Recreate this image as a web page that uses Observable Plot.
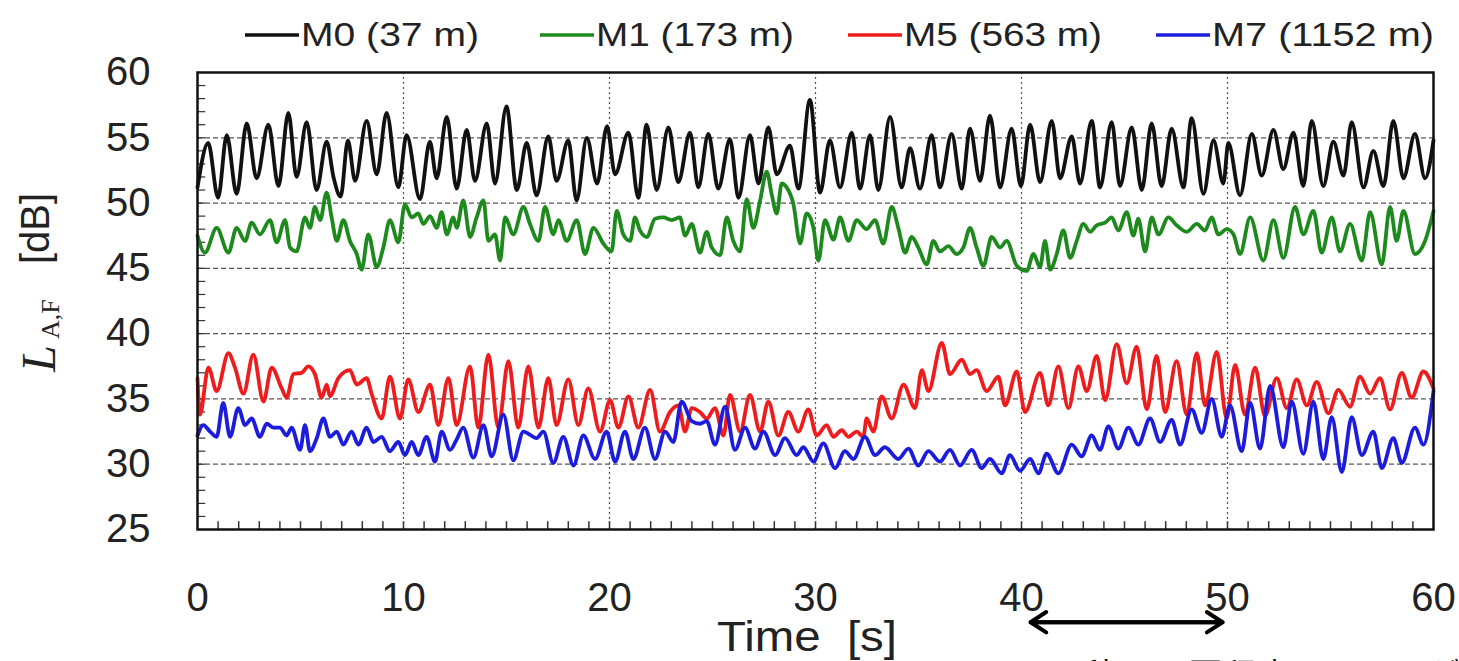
<!DOCTYPE html>
<html>
<head>
<meta charset="utf-8">
<script src="https://cdn.jsdelivr.net/npm/d3@7"></script>
<script src="https://cdn.jsdelivr.net/npm/@observablehq/plot@0.6"></script>
<style>
  html, body { margin: 0; padding: 0; background: #fff; }
  #wrap { position: relative; width: 1459px; height: 661px; overflow: hidden; background: #fff; }
  #chart { position: absolute; left: 0; top: 60px; }
  #legend, #overlay { position: absolute; left: 0; top: 0; }
  #note { position: absolute; left: 1045px; top: 657px; font-family: "Noto Sans CJK JP", sans-serif; font-size: 34px; line-height: 1; white-space: nowrap; color: #111; }
</style>
</head>
<body>
<div id="wrap">
  <svg id="legend" width="1459" height="60"></svg>
  <div id="chart"></div>
  <svg id="overlay" width="1459" height="661" style="pointer-events:none">
    <text transform="translate(55,372) rotate(-90)" font-family="Liberation Serif, Times New Roman, serif" font-style="italic" font-size="48" fill="#222">L</text>
    <text transform="translate(59,339) rotate(-90)" font-family="Liberation Serif, Times New Roman, serif" font-size="26" fill="#222">A,F</text>
    <text transform="translate(49,264) rotate(-90)" font-family="Liberation Sans, Arial, sans-serif" font-size="40" fill="#222">[dB]</text>
    <text x="717" y="651" font-family="Liberation Sans, Arial, sans-serif" font-size="42" fill="#222" textLength="180" lengthAdjust="spacingAndGlyphs" xml:space="preserve">Time  [s]</text>
  </svg>
  <div id="note"></div>
</div>
<script>
// ---------- data ----------
const seriesNames = ["M0 (37 m)", "M1 (173 m)", "M5 (563 m)", "M7 (1152 m)"];
const seriesColors = ["#111111", "#1e8a1e", "#ee1c1c", "#1c1cdc"];

const xTicks = [0, 10, 20, 30, 40, 50, 60];
const yTicks = [25, 30, 35, 40, 45, 50, 55, 60];
const xGrid = [10, 20, 30, 40, 50];
const yGrid = [30, 35, 40, 45, 50, 55];
const xMinor = d3.range(1, 60, 1);
const yMinor = d3.range(26, 60, 1);

const arrowSpan = [40.44, 49.76];
const arrowLevel = 17.9;

const m0Time = [0,0.52,1.0,1.42,1.9,2.39,2.87,3.44,3.93,4.41,
  4.81,5.3,5.78,6.27,6.6,6.95,7.3,7.65,8.21,8.7,
  9.18,9.75,10.15,10.8,11.28,11.61,12.1,12.58,13.07,13.47,
  14.04,14.44,15.0,15.5,15.98,16.46,17.03,17.43,18.0,18.4,
  18.9,19.4,19.88,20.27,20.92,21.4,21.8,22.29,22.86,23.34,
  23.91,24.31,24.8,25.28,25.85,26.26,26.82,27.23,27.71,28.12,
  28.76,29.17,29.73,30.22,30.7,31.19,31.76,32.16,32.65,33.05,
  33.62,34.18,34.59,35.07,35.64,36.04,36.61,37.1,37.5,37.99,
  38.47,38.96,39.52,39.97,40.42,40.9,41.47,41.87,42.44,42.84,
  43.41,43.81,44.38,44.78,45.35,45.84,46.32,46.8,47.29,47.86,
  48.26,48.83,49.32,49.8,50.04,50.61,51.18,51.66,52.23,52.71,
  53.2,53.68,54.09,54.65,55.14,55.63,56.03,56.6,57.08,57.57,
  58.05,58.54,59.1,59.59,60];
const m0Level = [51.2,54.6,50.4,55.2,50.7,56.1,51.9,56.0,51.3,56.9,
  52.0,56.2,51.0,54.7,52.0,50.5,54.8,51.7,56.3,52.2,
  56.9,51.2,55.2,50.3,54.7,51.9,56.6,51.1,55.6,51.7,
  56.1,51.5,57.4,51.0,54.6,50.6,55.1,51.7,54.8,50.2,
  55.0,51.5,55.9,52.2,55.4,50.4,56.0,51.0,55.8,51.6,
  55.4,51.2,55.3,51.1,54.9,50.4,55.2,51.5,55.8,52.2,
  54.4,51.1,57.9,50.8,54.8,51.2,55.4,51.1,55.2,51.0,
  56.6,51.2,54.2,51.1,55.2,51.2,55.3,51.1,55.7,51.7,
  56.7,51.2,55.7,51.3,56.0,51.6,56.3,51.9,55.1,51.5,
  56.3,51.2,56.2,51.3,55.8,51.0,56.1,51.3,55.7,51.2,
  56.5,50.7,54.8,51.5,54.6,50.6,55.3,52.1,55.6,52.6,
  55.4,51.3,56.3,51.3,54.7,52.1,56.2,51.2,54.0,51.3,
  56.3,51.9,55.3,51.9,54.8];

const m1Time = [0,0.36,0.93,1.5,1.9,2.31,2.63,3.03,3.52,3.84,
  4.25,4.49,4.81,5.22,5.46,5.7,5.95,6.27,6.51,6.76,
  7.08,7.4,7.73,7.97,8.29,8.7,9.02,9.34,9.75,10.07,
  10.4,10.72,10.96,11.29,11.61,11.85,12.1,12.42,12.58,12.9,
  13.23,13.55,13.88,14.12,14.44,14.69,14.93,15.33,15.82,16.14,
  16.55,16.87,17.27,17.52,17.92,18.41,18.81,19.22,19.7,
  20.1,20.35,20.67,21.0,21.24,21.48,21.81,22.21,22.61,23.02,
  23.42,23.67,23.99,24.39,24.72,24.96,25.37,25.69,26.01,26.34,
  26.66,26.98,27.31,27.63,27.87,28.12,28.36,28.6,28.93,29.25,
  29.57,29.9,30.14,30.46,30.87,31.19,31.6,32.0,32.48,32.89,
  33.29,33.7,34.02,34.35,34.67,34.99,35.4,35.72,36.04,36.45,
  36.85,37.18,37.5,37.82,38.15,38.55,38.96,39.28,39.77,
  40.25,40.58,40.9,41.14,41.39,41.71,42.03,42.36,42.68,43.0,
  43.33,43.65,44.06,44.38,44.7,45.11,45.43,45.67,46.0,46.32,
  46.65,47.13,47.53,48.02,48.51,48.91,49.23,49.56,49.96,50.29,
  50.61,51.1,51.74,52.23,52.71,53.28,53.68,54.17,54.57,55.06,
  55.46,55.95,56.52,56.92,57.49,57.89,58.21,58.54,59.1,59.59,
  60];
const m1Level = [47.5,46.2,48.1,46.2,48.1,47.1,48.5,47.6,48.7,47.0,
  48.7,46.6,46.3,48.9,48.1,49.7,48.7,50.8,48.9,47.1,
  48.7,47.1,46.1,44.9,47.6,45.1,46.6,48.7,47.0,49.9,
  48.9,49.2,48.4,49.0,48.1,49.3,47.6,48.9,48.1,50.2,
  47.4,48.9,50.2,47.1,47.6,45.6,48.9,47.6,49.7,48.4,
  47.1,49.7,47.6,48.7,47.1,48.7,46.1,48.1,46.9,
  46.3,49.4,47.6,47.1,48.9,47.9,47.4,48.8,48.9,48.7,
  48.9,47.5,48.4,46.2,47.8,46.6,46.0,48.9,47.1,46.3,
  50.3,48.1,50.2,52.4,50.7,49.2,51.5,51.2,49.9,46.9,
  49.2,48.1,45.6,48.7,47.2,48.9,47.1,48.7,48.0,48.7,
  46.9,49.7,48.1,46.2,47.4,46.6,45.3,47.1,46.3,46.7,
  46.1,46.6,48.1,46.6,45.2,47.4,46.6,47.1,45.2,
  44.8,46.1,45.1,47.1,44.9,46.1,47.9,45.8,47.1,48.4,
  47.8,48.3,48.5,48.9,47.9,49.3,47.5,48.8,46.3,48.9,
  47.6,48.9,48.3,47.8,48.4,47.9,48.9,47.6,48.0,47.6,
  46.1,48.9,45.6,48.7,45.8,49.7,47.6,49.4,46.2,48.9,
  46.3,48.4,45.6,49.3,45.3,49.7,47.1,49.4,46.1,47.1,
  49.4];

const m5Time = [0,0.12,0.53,0.93,1.5,1.82,2.23,2.71,3.2,3.6,
  4.09,4.33,4.65,5.06,5.38,5.7,6.03,6.27,6.43,6.84,
  7.4,7.73,8.21,8.45,8.94,9.34,9.83,10.23,10.72,11.29,
  11.69,12.18,12.58,13.23,13.63,14.12,14.6,15.09,15.57,16.06,
  16.55,17.03,17.43,18.0,18.49,18.97,19.54,
  20.03,20.43,20.92,21.4,21.97,22.45,22.94,23.34,23.67,23.99,
  24.39,24.72,25.12,25.53,25.85,26.34,26.82,27.31,27.71,28.2,
  28.68,29.17,29.65,30.06,30.54,30.87,31.27,31.6,32.0,32.32,
  32.48,32.81,33.21,33.7,34.27,34.83,35.16,35.48,36.13,36.53,
  37.1,37.5,37.82,38.31,38.88,39.2,39.77,
  40.17,40.9,41.3,41.79,42.28,42.76,43.17,43.65,44.06,44.62,
  45.11,45.59,46.08,46.56,46.97,47.53,48.02,48.51,48.91,49.48,
  49.96,50.37,50.85,51.34,51.82,52.39,52.88,53.36,53.85,54.33,
  54.9,55.38,55.95,56.43,56.92,57.4,57.89,58.46,58.94,59.51,
  60];
const m5Level = [36.6,33.8,37.4,35.6,38.5,37.4,35.4,38.4,34.8,37.4,
  35.8,35.1,36.9,37.0,37.5,36.9,35.1,36.1,35.2,36.6,
  37.2,36.1,36.6,35.4,33.5,36.7,33.5,36.5,34.0,36.1,
  33.0,36.6,33.0,37.5,32.8,38.4,32.8,37.9,32.8,37.5,
  32.8,36.6,33.0,36.5,33.0,35.8,32.5,
  34.9,32.8,35.2,32.8,35.7,32.5,34.0,34.5,32.5,34.3,
  34.0,33.5,34.3,32.2,35.3,32.5,35.3,32.5,34.8,32.2,
  34.0,32.5,34.2,32.2,33.0,32.1,32.6,32.1,32.5,32.1,
  33.5,32.5,35.2,33.5,36.1,34.3,37.2,35.6,39.3,36.9,
  38.0,36.9,37.2,35.6,36.7,34.5,37.1,
  34.0,37.0,34.5,37.5,34.3,37.5,35.6,38.3,34.9,39.2,
  36.2,39.0,34.2,38.3,34.0,37.9,33.8,38.5,34.5,38.6,
  33.5,37.6,33.8,37.4,33.7,36.6,34.3,36.5,34.5,36.3,
  33.9,35.7,34.4,36.7,35.4,36.6,34.2,37.0,35.1,37.1,
  35.8];

const m7Time = [0,0.28,0.61,0.93,1.25,1.58,1.98,2.31,2.63,3.03,
  3.36,3.68,4.0,4.33,4.57,4.98,5.22,5.46,5.79,6.11,
  6.43,6.76,7.08,7.48,7.81,8.21,8.54,8.94,9.34,9.75,
  10.07,10.4,10.72,11.12,11.53,11.85,12.26,12.58,12.9,13.39,
  13.88,14.28,14.85,15.33,15.82,16.46,16.79,17.27,17.76,18.25,
  18.73,19.3,
  19.86,20.27,20.75,21.16,21.72,22.21,22.7,23.1,23.5,23.99,
  24.39,24.72,25.12,25.61,26.09,26.58,27.06,27.47,28.04,28.52,
  29.09,29.41,29.9,30.38,30.95,31.43,31.84,32.4,32.89,33.37,
  34.02,34.51,34.99,35.48,36.04,36.53,37.02,37.58,38.07,38.47,
  39.04,39.44,
  39.93,40.42,40.82,41.22,41.79,42.44,42.92,43.41,43.81,44.22,
  44.7,45.19,45.67,46.24,46.73,47.29,47.7,48.26,48.75,49.23,
  49.72,50.12,50.69,51.1,51.58,52.07,52.71,53.12,53.68,54.17,
  54.65,55.06,55.55,56.03,56.52,57.08,57.49,58.05,58.46,59.1,
  59.51,60];
const m7Level = [32.2,33.0,32.5,32.1,34.7,32.1,34.3,33.0,33.5,32.1,
  33.1,32.8,32.8,32.2,32.8,31.1,33.0,31.0,32.0,33.5,
  32.1,32.5,31.5,32.5,31.5,32.8,31.7,32.1,31.0,31.7,
  30.7,31.7,30.7,32.1,30.2,32.5,31.1,31.9,32.8,30.5,
  33.0,30.6,33.8,30.3,32.5,32.0,32.5,30.1,32.1,29.9,
  32.2,30.4,
  32.5,30.2,32.5,30.4,32.8,30.4,32.5,31.7,34.8,33.3,
  33.1,33.3,31.5,34.4,31.1,32.8,31.2,32.5,30.7,32.0,
  30.7,31.3,30.2,31.6,29.7,31.0,30.4,32.1,30.7,31.3,
  30.4,31.2,29.9,31.0,30.2,31.1,29.9,31.1,29.7,30.4,
  29.3,30.7,
  29.5,30.4,29.3,30.8,29.3,31.5,30.6,32.2,31.1,32.9,
  31.2,32.8,31.5,33.5,31.7,33.4,31.5,34.2,32.4,35.0,
  32.1,34.5,31.0,34.7,31.2,36.0,31.3,34.8,30.8,34.8,
  30.4,33.6,29.4,33.6,30.7,32.5,29.7,32.0,30.1,32.8,
  31.5,35.6];

const noteText = "10秒に10回程度のレベルが変動";

// ---------- build ----------
const seriesTimes = [m0Time, m1Time, m5Time, m7Time];
const seriesLevels = [m0Level, m1Level, m5Level, m7Level];
const rows = [];
seriesNames.forEach((name, k) => {
  const ts = seriesTimes[k], vs = seriesLevels[k];
  const n = Math.min(ts.length, vs.length);
  for (let i = 0; i < n; i++) rows.push({t: ts[i], v: vs[i], name});
});

document.getElementById("note").textContent = noteText;

const chart = Plot.plot({
  width: 1459,
  height: 601,
  marginTop: 12,
  marginBottom: 132,
  marginLeft: 197,
  marginRight: 26,
  style: {fontFamily: "'Liberation Sans', Arial, sans-serif", fontSize: "40px", color: "#222", background: "transparent", overflow: "visible"},
  x: {domain: [0, 60], ticks: xTicks, tickSize: 0, tickPadding: 53, tickFormat: d => String(d), label: null},
  y: {domain: [25, 60], ticks: yTicks, tickSize: 0, tickPadding: 47, tickFormat: d => String(d), label: null},
  color: {domain: seriesNames, range: seriesColors},
  marks: [
    Plot.ruleY(yGrid, {stroke: "#555", strokeWidth: 1.2, strokeDasharray: "5,3"}),
    Plot.ruleX(xGrid, {stroke: "#555", strokeWidth: 1.2, strokeDasharray: "2,3"}),
    Plot.ruleY(yMinor, {x1: 0, x2: 0.4, stroke: "#333", strokeWidth: 1.2}),
    Plot.ruleX(xMinor, {y1: 25, y2: 25.6, stroke: "#333", strokeWidth: 1.5}),
    Plot.line(rows, {x: "t", y: "v", z: "name", stroke: "name", strokeWidth: 3.8, curve: "monotone-x", strokeLinejoin: "round"}),
    Plot.frame({stroke: "#111", strokeWidth: 2.5}),
    Plot.arrow([{a: arrowSpan[0], b: arrowSpan[1]}, {a: arrowSpan[1], b: arrowSpan[0]}], {
      x1: "a", x2: "b", y1: () => arrowLevel, y2: () => arrowLevel,
      stroke: "#000", strokeWidth: 4, headLength: 7, headAngle: 66
    }),
    Plot.axisX({ticks: xTicks, tickSize: 0, tickPadding: 53, tickFormat: d => String(d), label: null, fontSize: 40}),
    Plot.axisY({ticks: yTicks, tickSize: 0, tickPadding: 47, tickFormat: d => String(d), label: null, fontSize: 40})
  ]
});
document.getElementById("chart").appendChild(chart);

// ---------- legend ----------
const legendLayout = [
  {x: 245, w: 178},
  {x: 540, w: 198},
  {x: 848, w: 198},
  {x: 1156, w: 222}
];
const lg = d3.select("#legend");
seriesNames.forEach((name, k) => {
  const L = legendLayout[k];
  lg.append("line").attr("x1", L.x).attr("x2", L.x + 54).attr("y1", 35).attr("y2", 35)
    .attr("stroke", seriesColors[k]).attr("stroke-width", 3.5);
  lg.append("text").attr("x", L.x + 56).attr("y", 46)
    .attr("font-family", "'Liberation Sans', Arial, sans-serif").attr("font-size", 33)
    .attr("fill", "#222").attr("textLength", L.w).attr("lengthAdjust", "spacingAndGlyphs")
    .text(name);
});
</script>
</body>
</html>
